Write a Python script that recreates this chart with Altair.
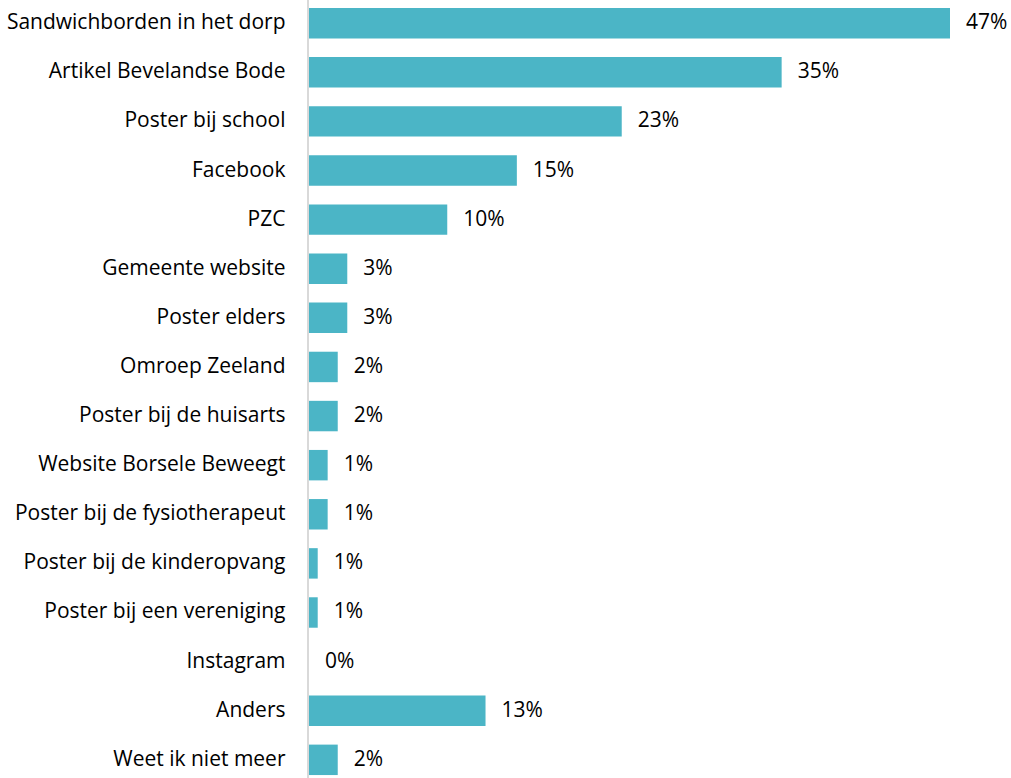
import altair as alt
import pandas as pd

categories = [
    "Sandwichborden in het dorp",
    "Artikel Bevelandse Bode",
    "Poster bij school",
    "Facebook",
    "PZC",
    "Gemeente website",
    "Poster elders",
    "Omroep Zeeland",
    "Poster bij de huisarts",
    "Website Borsele Beweegt",
    "Poster bij de fysiotherapeut",
    "Poster bij de kinderopvang",
    "Poster bij een vereniging",
    "Instagram",
    "Anders",
    "Weet ik niet meer",
]
percentages = [47.06, 34.70, 22.96, 15.26, 10.15, 2.81, 2.81, 2.11, 2.11,
               1.37, 1.37, 0.64, 0.64, 0.0, 12.96, 2.11]

df = pd.DataFrame({"cat": categories, "pct": percentages})
df["frac"] = df["pct"] / 100.0

FONT = "Open Sans"
FS = 21

y_enc = alt.Y(
    "cat:N",
    sort=categories,
    title=None,
    scale=alt.Scale(paddingInner=0.38, paddingOuter=0.06),
    axis=alt.Axis(
        domain=False, ticks=False, grid=False,
        labelFont=FONT, labelFontSize=FS, labelColor="#000000",
        labelPadding=24, labelAlign="right", labelLimit=400,
    ),
)
x_enc = alt.X("frac:Q", title=None, axis=None,
              scale=alt.Scale(domain=[0, 0.4706], nice=False, zero=True))

base = alt.Chart(df)

rule = alt.Chart(pd.DataFrame({"v": [0.0]})).mark_rule(
    color="#D9D9D9", strokeWidth=2, xOffset=-1
).encode(
    x=alt.X("v:Q", scale=alt.Scale(domain=[0, 0.4706], nice=False, zero=True), axis=None, title=None),
    y=alt.value(-6), y2=alt.value(773),
)

bars = base.mark_bar(color="#4BB5C6").encode(x=x_enc, y=y_enc)

labels = base.mark_text(
    align="left", baseline="middle", dx=16, font=FONT, fontSize=FS, color="#000000"
).encode(x=x_enc, y=y_enc, text=alt.Text("frac:Q", format=".0%"))

chart = (
    alt.layer(rule, bars, labels)
    .properties(
        width=641, height=773,
        autosize=alt.AutoSizeParams(type="none"),
        padding={"left": 309, "top": 5, "right": 61, "bottom": 0},
        view=alt.ViewBackground(stroke="#FFFFFF", strokeWidth=0, strokeOpacity=0),
    )
    .configure_view(stroke="#FFFFFF", strokeWidth=0, strokeOpacity=0)
    .configure(background="white")
)

chart.save("out.html", embed_options={"renderer": "svg", "actions": False})
